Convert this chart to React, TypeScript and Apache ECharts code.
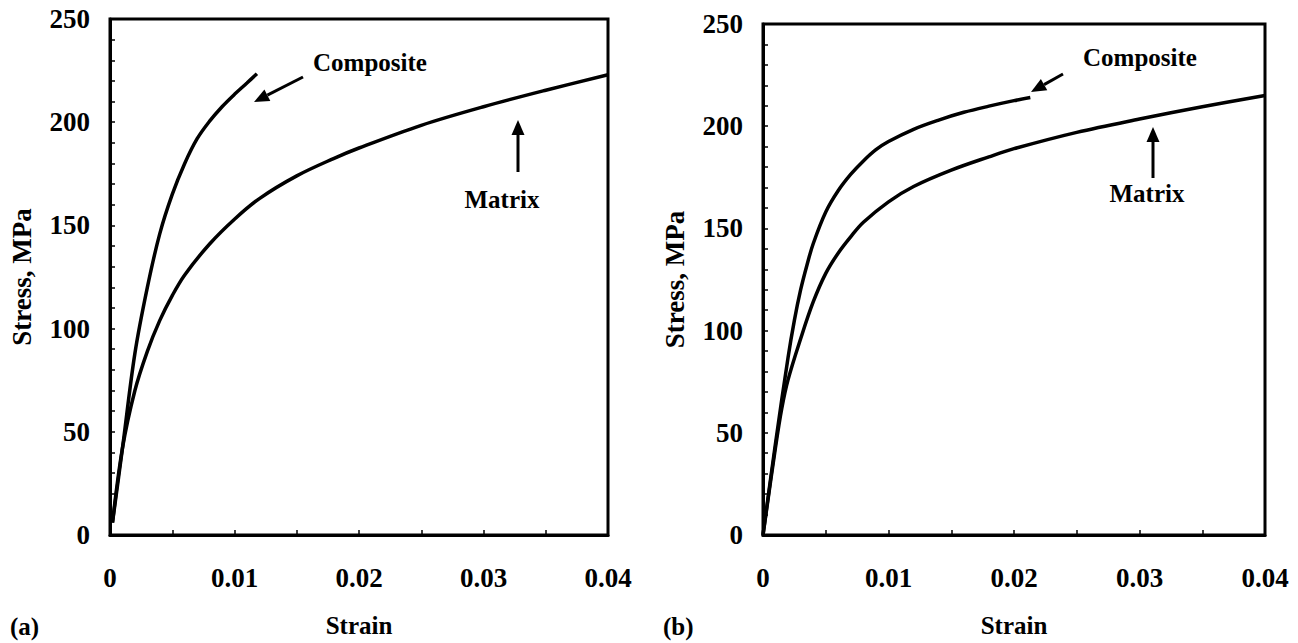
import React, { useEffect, useRef } from "react";
import * as echarts from "echarts";

// (a) panel data: [strain, stress MPa]
const compositeA: [number, number][] = [
  [0.0002, 6], [0.001, 42], [0.002, 88], [0.003, 120], [0.004, 146], [0.005, 165],
  [0.006, 180], [0.007, 192], [0.008, 200.5], [0.009, 207.5], [0.010, 213.5], [0.011, 219], [0.0118, 223.5],
];
const matrixA: [number, number][] = [
  [0.0002, 6], [0.001, 42], [0.002, 70], [0.003, 89], [0.004, 104], [0.005, 116], [0.006, 126],
  [0.008, 141], [0.010, 153], [0.012, 163], [0.015, 174], [0.018, 182.5], [0.020, 187.5],
  [0.025, 198.5], [0.030, 207.5], [0.035, 215.5], [0.040, 223],
];
// (b) panel data
const compositeB: [number, number][] = [
  [0, 0], [0.001, 45], [0.002, 87], [0.0025, 105], [0.003, 120], [0.0035, 132], [0.004, 142.5],
  [0.005, 158], [0.006, 168.5], [0.007, 176.5], [0.008, 183], [0.009, 188.5], [0.010, 192.5],
  [0.012, 198.5], [0.014, 203], [0.016, 206.8], [0.018, 209.8], [0.020, 212.5], [0.0213, 214],
];
const matrixB: [number, number][] = [
  [0, 0], [0.001, 43], [0.0015, 62], [0.002, 76], [0.003, 96], [0.004, 114], [0.005, 128],
  [0.006, 138], [0.007, 146], [0.008, 153], [0.010, 163], [0.012, 170.5], [0.015, 178.5],
  [0.018, 185], [0.020, 189], [0.025, 197], [0.030, 203.5], [0.035, 209.5], [0.040, 215],
];

const xTicks = [0, 0.01, 0.02, 0.03, 0.04];
const yTicks = [0, 50, 100, 150, 200, 250];
const xAxisTitle = "Strain";
const yAxisTitle = "Stress, MPa";
const seriesNames = ["Composite", "Matrix"];
const panelLabels = ["(a)", "(b)"];

const FONT = "'Liberation Serif', 'Times New Roman', serif";
const textStyle = { fontFamily: FONT, fontWeight: "bold" as const, fontSize: 25, color: "#000" };
const tickStyle = { ...textStyle, fontSize: 27 };
const yTitleStyle = { ...textStyle, fontSize: 27 };

function arrow(x1: number, y1: number, x2: number, y2: number) {
  const dx = x2 - x1, dy = y2 - y1;
  const len = Math.sqrt(dx * dx + dy * dy);
  const ux = dx / len, uy = dy / len;
  const hl = 15, hw = 6.5;
  const bx = x2 - ux * hl, by = y2 - uy * hl;
  return {
    type: "group",
    children: [
      { type: "line", shape: { x1, y1, x2: bx, y2: by }, style: { stroke: "#000", lineWidth: 3 } },
      {
        type: "polygon",
        shape: { points: [[x2, y2], [bx - uy * hw, by + ux * hw], [bx + uy * hw, by - ux * hw]] },
        style: { fill: "#000" },
      },
    ],
  };
}

function txt(x: number, y: number, text: string, align: string = "left") {
  return { type: "text", x, y, style: { text, ...textStyle, textAlign: align, textVerticalAlign: "middle" } };
}

export default function App() {
  const ref = useRef<HTMLDivElement>(null);
  useEffect(() => {
    if (!ref.current) return;
    const chart = echarts.init(ref.current, undefined, { renderer: "svg" });
    const grids = [
      { left: 110, top: 19, width: 498, height: 520 },
      { left: 763, top: 24, width: 502, height: 518 },
    ].map((g) => ({ ...g, show: true, borderColor: "#000", borderWidth: 3, backgroundColor: "transparent" }));

    const xAxes = [0, 1].map((i) => ({
      type: "value",
      gridIndex: i,
      min: xTicks[0],
      max: xTicks[xTicks.length - 1],
      interval: 0.01,
      name: xAxisTitle,
      nameLocation: "middle",
      nameGap: 78,
      nameTextStyle: textStyle,
      axisLine: { show: true, lineStyle: { color: "#000", width: 3 } },
      axisTick: { show: true, inside: true, length: 5, lineStyle: { color: "#000", width: 1.5 } },
      minorTick: { show: true, splitNumber: 2, length: 5, lineStyle: { color: "#000", width: 1.5 } },
      splitLine: { show: false },
      axisLabel: { ...tickStyle, margin: 29, formatter: (v: number) => (v === 0 ? "0" : String(+v.toFixed(2))) },
    }));
    const yAxes = [0, 1].map((i) => ({
      type: "value",
      gridIndex: i,
      min: yTicks[0],
      max: yTicks[yTicks.length - 1],
      interval: 50,
      name: yAxisTitle,
      nameLocation: "middle",
      nameGap: 75,
      nameTextStyle: yTitleStyle,
      axisLine: { show: true, lineStyle: { color: "#000", width: 3 } },
      axisTick: { show: true, inside: true, length: 5, lineStyle: { color: "#000", width: 1.5 } },
      minorTick: { show: true, splitNumber: 5, length: 5, lineStyle: { color: "#000", width: 1.5 } },
      splitLine: { show: false },
      axisLabel: { ...tickStyle, margin: 20 },
    }));

    const line = (name: string, data: [number, number][], idx: number) => ({
      type: "line",
      name,
      xAxisIndex: idx,
      yAxisIndex: idx,
      data,
      smooth: 0.35,
      showSymbol: false,
      lineStyle: { color: "#000", width: 3.5 },
      z: 5,
    });

    chart.setOption({
      animation: false,
      backgroundColor: "#fff",
      grid: grids,
      xAxis: xAxes,
      yAxis: yAxes,
      series: [
        line(seriesNames[0], compositeA, 0),
        line(seriesNames[1], matrixA, 0),
        line(seriesNames[0], compositeB, 1),
        line(seriesNames[1], matrixB, 1),
      ],
      graphic: [
        txt(313, 62, seriesNames[0]),
        arrow(303, 77, 254, 102),
        txt(502, 199, seriesNames[1], "center"),
        arrow(518, 172, 518, 120),
        txt(1083, 57, seriesNames[0]),
        arrow(1063, 74, 1031, 92),
        txt(1147, 193, seriesNames[1], "center"),
        arrow(1153, 178, 1153, 127),
        txt(10, 626, panelLabels[0]),
        txt(663, 626, panelLabels[1]),
      ],
    });
    return () => chart.dispose();
  }, []);
  return <div ref={ref} style={{ position: "absolute", left: 0, top: 0, width: 1298, height: 643 }} />;
}
